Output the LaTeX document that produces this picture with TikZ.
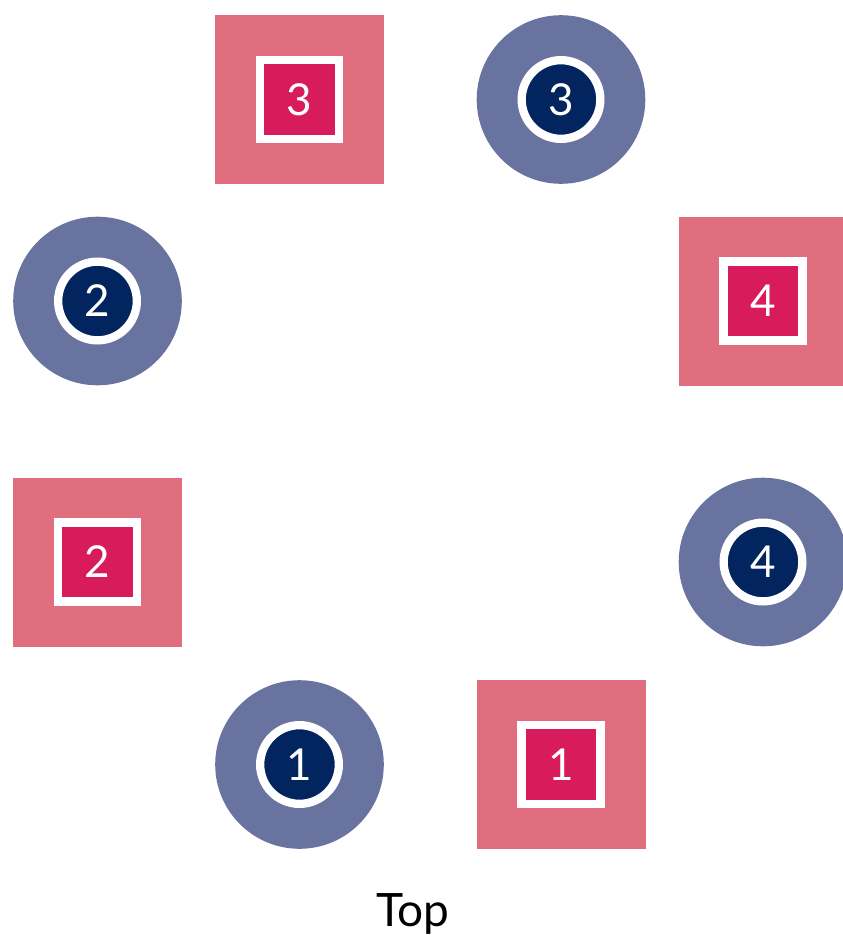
\documentclass[tikz,border=0pt]{standalone}
\usepackage{fontspec}
\setmainfont{Lato}
\usepackage{xcolor}
\definecolor{tilelight}{RGB}{225,110,126}
\definecolor{tiledark}{RGB}{216,28,91}
\definecolor{discl}{RGB}{104,115,159}
\definecolor{discdark}{RGB}{2,37,96}
\usepackage{tikz}
\usetikzlibrary{positioning}

\begin{document}
\begin{tikzpicture}[x=1pt,y=-1pt,font=\fontsize{44}{44}\selectfont,
  outersq/.style={rectangle,fill=tilelight,minimum size=169pt,inner sep=0pt},
  innersq/.style={rectangle,fill=tiledark,draw=white,line width=8.5pt,minimum size=79pt,inner sep=0pt,text=white},
  outerci/.style={circle,fill=discl,minimum size=168.6pt,inner sep=0pt},
  innerci/.style={circle,fill=discdark,draw=white,line width=8.3pt,minimum size=78.7pt,inner sep=0pt,text=white}]
  \useasboundingbox (0,0) rectangle (843,935);
  % Cuadrados: numero/x/y
  \foreach \n/\x/\y in {1/561/764.5,2/97.5/562,3/299.5/99.5,4/763/301}{
    \node[outersq] (sq\n) at (\x,\y) {};
    \node[innersq] (sqin\n) at (sq\n) {\n};
  }
  % Circulos: numero/x/y
  \foreach \n/\x/\y in {1/299.5/764.5,2/97.5/301,3/561/99.5,4/763/562}{
    \node[outerci] (ci\n) at (\x,\y) {};
    \node[innerci] (ciin\n) at (ci\n) {\n};
  }
  \node[anchor=base,font=\fontsize{46}{46}\selectfont] (top) at (413,926) {Top};
\end{tikzpicture}
\end{document}
